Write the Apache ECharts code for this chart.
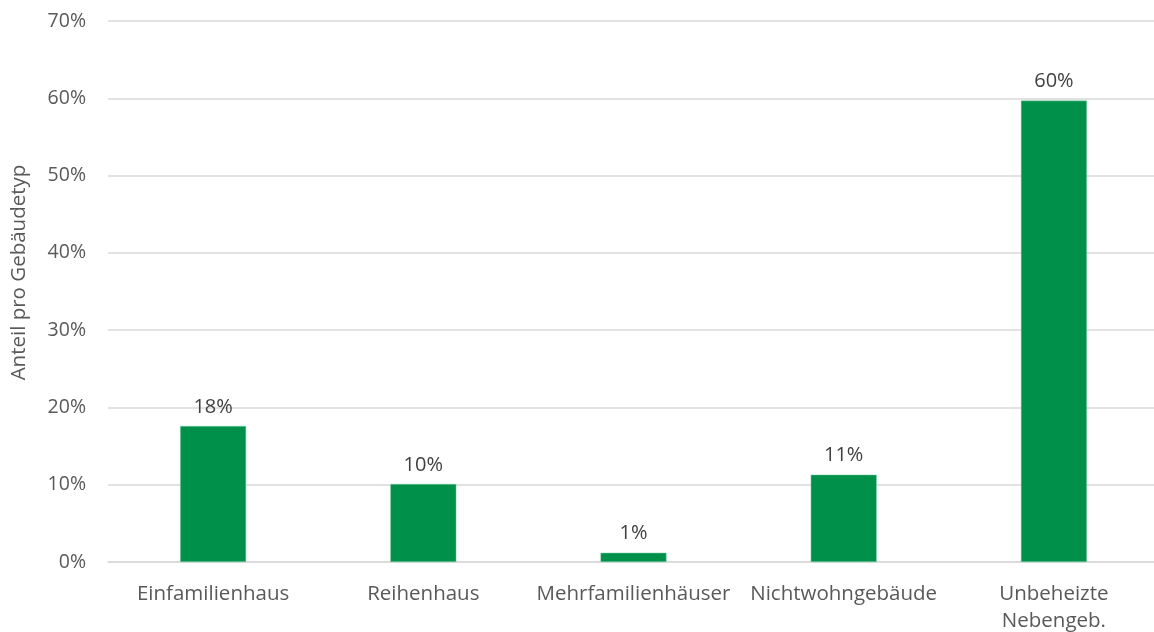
<!DOCTYPE html>
<html>
<head>
<meta charset="utf-8">
<script src="https://cdn.jsdelivr.net/npm/echarts@6/dist/echarts.min.js"></script>
<style>
  html, body { margin: 0; padding: 0; background: #fff; }
  #main { width: 1154px; height: 632px; }
</style>
</head>
<body>
<div id="main"></div>
<script>
// Gebäudetypen und Anteile (in %)
var categories = ['Einfamilienhaus', 'Reihenhaus', 'Mehrfamilienhäuser', 'Nichtwohngebäude', 'Unbeheizte\nNebengeb.'];
var shares = [17.6, 10.1, 1.2, 11.3, 59.7];
var yTicks = [0, 10, 20, 30, 40, 50, 60, 70];

var chart = echarts.init(document.getElementById('main'));
var font = '"Open Sans", "Noto Sans", sans-serif';

var option = {
    backgroundColor: '#fff',
    animation: false,
    grid: { left: 108, right: -5, top: 21, bottom: 70, outerBoundsMode: 'none' },
    xAxis: {
        type: 'category',
        data: categories,
        axisLine: { show: true, lineStyle: { color: '#d9d9d9', width: 1.5 } },
        axisTick: { show: false },
        axisLabel: {
            color: '#595959',
            fontFamily: font,
            fontSize: 20.5,
            margin: 19,
            lineHeight: 27,
            interval: 0
        }
    },
    yAxis: {
        type: 'value',
        min: yTicks[0],
        max: yTicks[yTicks.length - 1],
        interval: 10,
        name: 'Anteil pro Gebäudetyp',
        nameLocation: 'middle',
        nameGap: 78,
        nameTextStyle: { color: '#595959', fontFamily: font, fontSize: 20.5, padding: [0, 0, 0, 38] },
        axisLine: { show: false },
        axisTick: { show: false },
        splitLine: { lineStyle: { color: '#d9d9d9', width: 1.5 } },
        axisLabel: {
            color: '#595959',
            fontFamily: font,
            fontSize: 19.5,
            margin: 22,
            formatter: function(v) { return v + '%'; }
        }
    },
    series: [{
        type: 'bar',
        data: shares,
        barWidth: 66,
        itemStyle: { color: '#00904a', borderColor: '#7fd3a8', borderWidth: 0.5 },
        label: {
            show: true,
            position: 'top',
            distance: 9,
            color: '#404040',
            fontFamily: font,
            fontSize: 20,
            formatter: function(p) { return Math.round(p.value) + '%'; }
        }
    }]
};

chart.setOption(option);
</script>
</body>
</html>
